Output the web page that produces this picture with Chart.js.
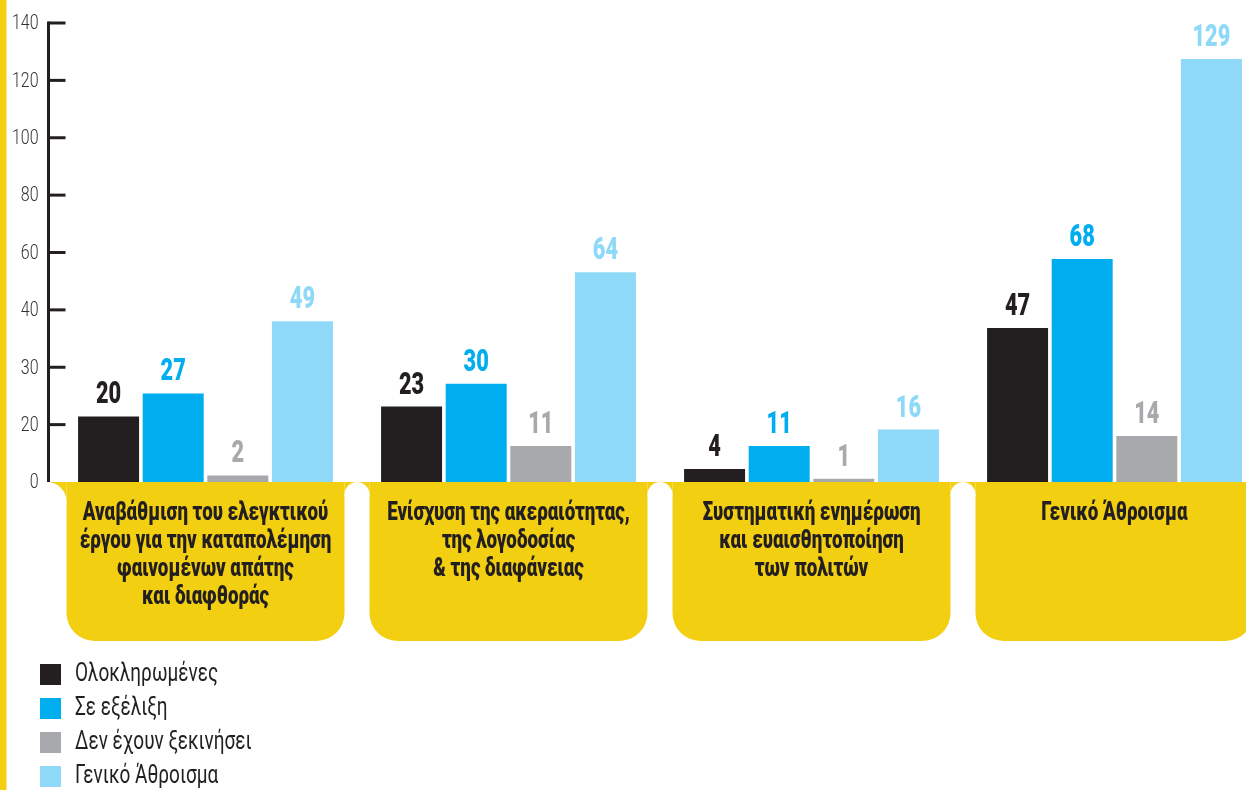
<!DOCTYPE html>
<html>
<head>
<meta charset="utf-8">
<script src="https://cdn.jsdelivr.net/npm/chart.js@4.4.1/dist/chart.umd.min.js"></script>
<style>
html, body { margin: 0; padding: 0; background: #fff; overflow: hidden; }
#wrap { width: 1246px; height: 790px; overflow: hidden; }
canvas { display: block; }
</style>
</head>
<body>
<div id="wrap"><canvas id="myChart" width="1266" height="790"></canvas></div>
<script>
const categories = [
    ['Αναβάθμιση του ελεγκτικού', 'έργου για την καταπολέμηση', 'φαινομένων απάτης', 'και διαφθοράς'],
    ['Ενίσχυση της ακεραιότητας,', 'της λογοδοσίας', '& της διαφάνειας'],
    ['Συστηματική ενημέρωση', 'και ευαισθητοποίηση', 'των πολιτών'],
    ['Γενικό Άθροισμα']
];
const seriesNames = ['Ολοκληρωμένες', 'Σε εξέλιξη', 'Δεν έχουν ξεκινήσει', 'Γενικό Άθροισμα'];
const completed = [20, 23, 4, 47];
const inProgress = [27, 30, 11, 68];
const notStarted = [2, 11, 1, 14];
const totals = [49, 64, 16, 129];
const tickLabels = ['140', '120', '100', '80', '60', '40', '30', '20', '0'];

const colors = ['#231F20', '#00AEEF', '#A7A9AC', '#8ED8F8'];
const yellow = '#F3CF11';
const dark = '#231F20';
const font = "Roboto, 'DejaVu Sans', sans-serif";

// squeezed text, the original uses a condensed face
function squeezed(c, text, x, y, sx) {
    c.save();
    c.translate(x, y);
    c.scale(sx, 1);
    c.fillText(text, 0, 0);
    c.restore();
}

const decor = {
    id: 'decor',
    beforeDatasetsDraw(chart) {
        const c = chart.ctx;
        const area = chart.chartArea;
        const x = chart.scales.x;
        const n = chart.data.labels.length;
        const step = x.getPixelForValue(1) - x.getPixelForValue(0);
        const gap = 25;
        const half = step / 2 - gap / 2;
        const top = area.bottom;
        const h = 159;
        const r = 28;
        const axisX = area.left - 5.5;

        c.save();
        c.fillStyle = yellow;
        c.fillRect(0, 0, 6.5, chart.height);

        for (let i = 0; i < n; i++) {
            const cx = x.getPixelForValue(i);
            c.beginPath();
            c.roundRect(cx - half, top, half * 2, h, [0, 0, r, r]);
            c.fill();
        }
        // fillets joining the boxes
        for (let i = 0; i < n; i++) {
            if (i === 0) {
                const l = axisX - 1.5;
                const w = x.getPixelForValue(0) - half - l;
                c.fillStyle = yellow;
                c.fillRect(l, top, w, w);
                c.fillStyle = '#fff';
                c.beginPath();
                c.arc(l, top + w, w, 0, Math.PI * 2);
                c.fill();
            } else {
                const l = x.getPixelForValue(i - 1) + half;
                const w = (x.getPixelForValue(i) - half - l) / 2;
                c.fillStyle = yellow;
                c.fillRect(l, top, w * 2, w);
                c.fillStyle = '#fff';
                c.beginPath();
                c.arc(l + w, top + w, w, 0, Math.PI * 2);
                c.fill();
            }
        }
        c.restore();
    },
    afterDatasetsDraw(chart) {
        const c = chart.ctx;
        const area = chart.chartArea;
        const x = chart.scales.x;
        const yt = chart.scales.yTicks;
        const axisX = area.left - 5.5;

        c.save();
        // axis line, ticks and tick labels
        c.strokeStyle = dark;
        c.lineWidth = 3;
        c.beginPath();
        c.moveTo(axisX, area.top - 1.5);
        c.lineTo(axisX, area.bottom);
        c.stroke();
        c.fillStyle = '#333';
        c.font = '300 21px ' + font;
        c.textAlign = 'right';
        c.textBaseline = 'middle';
        yt.ticks.forEach((t, i) => {
            const y = yt.getPixelForTick(i);
            squeezed(c, t.label, axisX - 10, y + 1, 0.76);
            if (i === yt.ticks.length - 1) return;
            c.beginPath();
            c.moveTo(axisX, y);
            c.lineTo(axisX + 17, y);
            c.stroke();
        });

        // value labels
        c.textAlign = 'center';
        c.textBaseline = 'alphabetic';
        c.font = '900 32px ' + font;
        chart.data.datasets.forEach((ds, di) => {
            const meta = chart.getDatasetMeta(di);
            c.fillStyle = ds.backgroundColor;
            meta.data.forEach((bar, i) => {
                squeezed(c, String(ds.data[i]), bar.x, bar.y - 13, 0.68);
            });
        });

        // category labels
        c.fillStyle = dark;
        c.font = '900 25px ' + font;
        c.textBaseline = 'middle';
        chart.data.labels.forEach((lines, i) => {
            const cx = x.getPixelForValue(i);
            lines.forEach((line, j) => {
                squeezed(c, line, cx, area.bottom + 32 + j * 28, 0.75);
            });
        });

        // legend
        c.textAlign = 'left';
        c.font = '25px ' + font;
        chart.data.datasets.forEach((ds, di) => {
            const y = 664 + di * 34;
            c.fillStyle = ds.backgroundColor;
            c.fillRect(40, y, 21, 21);
            c.fillStyle = dark;
            squeezed(c, ds.label, 75, y + 11, 0.76);
        });
        c.restore();
    }
};

const ctx = document.getElementById('myChart').getContext('2d');
new Chart(ctx, {
    type: 'bar',
    data: {
        labels: categories,
        datasets: [
            { label: seriesNames[0], data: completed, backgroundColor: colors[0] },
            { label: seriesNames[1], data: inProgress, backgroundColor: colors[1] },
            { label: seriesNames[2], data: notStarted, backgroundColor: colors[2] },
            { label: seriesNames[3], data: totals, backgroundColor: colors[3] }
        ]
    },
    options: {
        responsive: false,
        animation: false,
        devicePixelRatio: 1,
        categoryPercentage: 0.853,
        barPercentage: 0.944,
        layout: { padding: { top: 23, bottom: 308, left: 0, right: 0 } },
        plugins: {
            legend: { display: false },
            tooltip: { enabled: false }
        },
        scales: {
            x: { display: false, offset: true },
            y: { display: false, min: 0, max: 140 },
            yTicks: {
                type: 'category',
                position: 'left',
                labels: tickLabels,
                offset: false,
                grid: { display: false },
                border: { display: false },
                ticks: { display: false, autoSkip: false },
                afterFit: s => { s.width = 54; }
            }
        }
    },
    plugins: [decor]
});
</script>
</body>
</html>
